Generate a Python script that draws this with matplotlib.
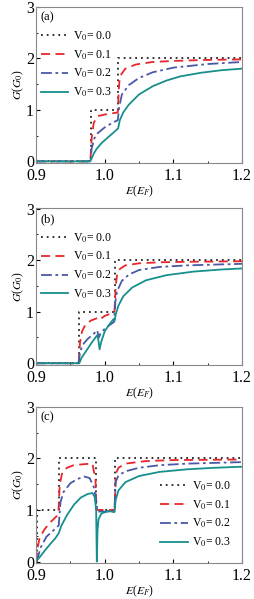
import matplotlib
matplotlib.use("Agg")
import matplotlib.pyplot as plt
from matplotlib.ticker import MultipleLocator

plt.rcParams['font.family'] = ['Liberation Serif', 'DejaVu Serif']
plt.rcParams['mathtext.fontset'] = 'stix'

labels = ['V$_0$= 0.0', 'V$_0$= 0.1', 'V$_0$= 0.2', 'V$_0$= 0.3']
panel_names = ['(a)', '(b)', '(c)']

# panel (a)
e_a0 = [0.9, 0.98, 0.98, 1.02, 1.02, 1.2]
g_a0 = [0, 0, 1, 1, 2, 2]
e_a1 = [0.9, 0.979, 0.981, 0.984, 0.99, 1.0, 1.01, 1.019, 1.0205, 1.022, 1.03, 1.045, 1.07, 1.1, 1.15, 1.2]
g_a1 = [0, 0, 0.45, 0.75, 0.88, 0.91, 0.93, 0.95, 1.4, 1.65, 1.8, 1.88, 1.93, 1.95, 1.97, 1.98]
e_a2 = [0.9, 0.979, 0.981, 0.985, 0.99, 1.0, 1.01, 1.019, 1.021, 1.025, 1.035, 1.05, 1.07, 1.1, 1.15, 1.2]
g_a2 = [0, 0, 0.25, 0.45, 0.55, 0.66, 0.74, 0.8, 1.05, 1.3, 1.48, 1.62, 1.73, 1.82, 1.89, 1.93]
e_a3 = [0.9, 0.979, 0.981, 0.984, 0.988, 0.995, 1.005, 1.012, 1.0195, 1.022, 1.027, 1.035, 1.05,
        1.07, 1.09, 1.11, 1.14, 1.17, 1.2]
g_a3 = [0, 0, 0.06, 0.15, 0.24, 0.35, 0.47, 0.55, 0.64, 0.8, 0.95, 1.1, 1.3,
        1.46, 1.57, 1.65, 1.72, 1.77, 1.8]

# panel (b)
e_b0 = [0.9, 0.963, 0.963, 1.015, 1.015, 1.2]
g_b0 = [0, 0, 1, 1, 2, 2]
e_b1 = [0.9, 0.962, 0.964, 0.967, 0.972, 0.98, 0.988, 0.991, 0.993, 1.0, 1.008, 1.014, 1.016,
        1.018, 1.022, 1.03, 1.05, 1.08, 1.12, 1.2]
g_b1 = [0, 0, 0.4, 0.62, 0.75, 0.83, 0.87, 0.88, 0.85, 0.92, 0.96, 0.98, 1.5,
        1.72, 1.83, 1.9, 1.94, 1.96, 1.97, 1.98]
e_b2 = [0.9, 0.962, 0.964, 0.968, 0.975, 0.983, 0.989, 0.9915, 0.994, 1.0, 1.008, 1.0135, 1.0155,
        1.018, 1.025, 1.035, 1.05, 1.08, 1.12, 1.2]
g_b2 = [0, 0, 0.22, 0.36, 0.47, 0.56, 0.64, 0.5, 0.58, 0.67, 0.75, 0.8, 1.2,
        1.4, 1.6, 1.72, 1.81, 1.87, 1.9, 1.93]
e_b3 = [0.9, 0.963, 0.966, 0.972, 0.98, 0.986, 0.9895, 0.991, 0.9925, 0.995, 1.0, 1.007, 1.013,
        1.0145, 1.016, 1.02, 1.027, 1.04, 1.06, 1.09, 1.13, 1.17, 1.2]
g_b3 = [0, 0, 0.1, 0.22, 0.38, 0.49, 0.55, 0.42, 0.27, 0.42, 0.62, 0.76, 0.86,
        0.83, 0.95, 1.12, 1.3, 1.47, 1.61, 1.71, 1.78, 1.82, 1.84]

# panel (c)
e_c0 = [0.9, 0.902, 0.902, 0.933, 0.933, 0.987, 0.987, 1.015, 1.015, 1.2]
g_c0 = [0, 0, 1, 1, 2, 2, 1, 1, 2, 2]
e_c1 = [0.9, 0.902, 0.905, 0.912, 0.92, 0.93, 0.9325, 0.9345, 0.938, 0.945, 0.955, 0.97, 0.982,
        0.9865, 0.988, 1.0, 1.0145, 1.016, 1.02, 1.03, 1.06, 1.1, 1.2]
g_c1 = [0, 0.25, 0.45, 0.62, 0.75, 0.88, 0.94, 1.5, 1.72, 1.82, 1.87, 1.89, 1.9,
        1.6, 1.0, 1.0, 1.0, 1.7, 1.82, 1.9, 1.95, 1.97, 1.98]
e_c2 = [0.9, 0.903, 0.907, 0.915, 0.925, 0.933, 0.9355, 0.94, 0.95, 0.96, 0.97, 0.978, 0.984,
        0.9875, 0.9895, 1.0, 1.014, 1.016, 1.02, 1.03, 1.05, 1.08, 1.12, 1.2]
g_c2 = [0, 0.1, 0.28, 0.48, 0.6, 0.7, 1.15, 1.35, 1.52, 1.6, 1.65, 1.62, 1.45,
        1.2, 0.97, 0.97, 0.97, 1.55, 1.67, 1.75, 1.82, 1.87, 1.9, 1.93]
e_c3 = [0.9, 0.905, 0.912, 0.92, 0.928, 0.933, 0.937, 0.945, 0.955, 0.965, 0.975, 0.982, 0.9855,
        0.9875, 0.9885, 0.9895, 0.991, 0.995, 1.005, 1.014, 1.016, 1.02, 1.03, 1.05, 1.08, 1.12,
        1.16, 1.2]
g_c3 = [0, 0.08, 0.2, 0.33, 0.45, 0.55, 0.7, 0.9, 1.1, 1.24, 1.31, 1.33, 1.25,
        1.0, 0.0, 0.6, 0.82, 0.93, 0.98, 0.96, 1.2, 1.38, 1.54, 1.66, 1.74, 1.79,
        1.82, 1.84]

panels = [
    [(e_a0, g_a0), (e_a1, g_a1), (e_a2, g_a2), (e_a3, g_a3)],
    [(e_b0, g_b0), (e_b1, g_b1), (e_b2, g_b2), (e_b3, g_b3)],
    [(e_c0, g_c0), (e_c1, g_c1), (e_c2, g_c2), (e_c3, g_c3)],
]

colors = ['#222222', '#e8262a', '#4a58a8', '#178f8c']
styles = [(0, (1, 2.2)), (0, (5, 3)), (0, (6, 2, 1.5, 2)), '-']

fig = plt.figure(figsize=(2.54, 5.99), dpi=100)
bottoms = [0.728, 0.391, 0.060]
height = 0.261

for i, series in enumerate(panels):
    ax = fig.add_axes([0.142, bottoms[i], 0.811, height])
    for j, (e, g) in enumerate(series):
        ax.plot(e, g, color=colors[j], linestyle=styles[j], lw=1.3, label=labels[j])
    ax.set_xlim(0.9, 1.2)
    ax.set_ylim(-0.03, 3.005)
    ax.set_xticks([0.9, 1.0, 1.1, 1.2])
    ax.set_xticklabels(['0.9', '1.0', '1.1', '1.2'])
    ax.set_yticks([0, 1, 2, 3])
    ax.set_yticklabels(['0', '1', '2', '3'])
    ax.xaxis.set_minor_locator(MultipleLocator(0.05))
    ax.yaxis.set_minor_locator(MultipleLocator(0.5))
    ax.tick_params(which='both', direction='in', labelsize=11.5)
    ax.tick_params(axis='x', pad=3.5)
    ax.tick_params(axis='y', pad=1.5)
    ax.tick_params(which='major', length=3)
    ax.tick_params(which='minor', length=1.5)
    for s in ax.spines.values():
        s.set_color('#888888')
        s.set_linewidth(0.8)
    ax.set_xlabel('$E$($E_F$)', fontsize=8.5, labelpad=0)
    ax.set_ylabel('$G$($G_0$)', fontsize=8.5, labelpad=0)
    ax.text(0.02, 0.97, panel_names[i], transform=ax.transAxes, fontsize=9,
            va='top', ha='left')
    if i < 2:
        ax.legend(loc='upper left', bbox_to_anchor=(-0.01, 0.9), frameon=False,
                  fontsize=8.5, handlelength=2.3, labelspacing=0.45, handletextpad=0.4,
                  borderaxespad=0.2)
    else:
        ax.legend(loc='lower right', bbox_to_anchor=(1.0, 0.02), frameon=False,
                  fontsize=8.5, handlelength=2.3, labelspacing=0.45, handletextpad=0.4)

fig.savefig('out.png', dpi=100)
